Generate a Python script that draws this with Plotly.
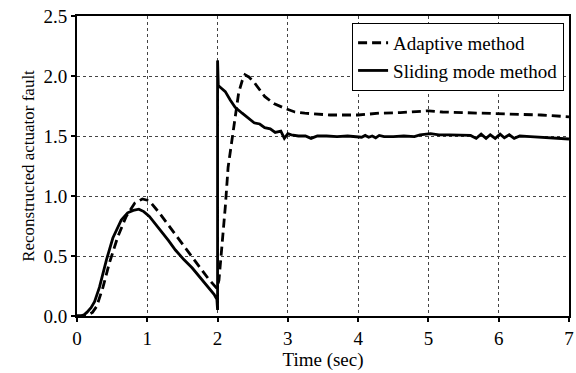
import plotly.graph_objects as go

# Sliding mode method (solid)
t_sliding = [0.0, 0.05, 0.10, 0.14, 0.20, 0.25, 0.32, 0.42, 0.51, 0.63, 0.72, 0.80, 0.88,
             0.95, 1.03, 1.17, 1.30, 1.40, 1.52, 1.64, 1.75, 1.87, 1.95, 1.99, 2.00, 2.00,
             2.01, 2.05, 2.11, 2.18, 2.25, 2.35, 2.44, 2.52, 2.60, 2.67, 2.75, 2.82, 2.90,
             2.95, 3.00, 3.05, 3.15, 3.25, 3.33, 3.42, 3.55, 3.70, 3.85, 4.00, 4.05, 4.10,
             4.15, 4.20, 4.25, 4.30, 4.37, 4.50, 4.65, 4.80, 4.88, 5.03, 5.15, 5.30, 5.45,
             5.60, 5.68, 5.75, 5.82, 5.88, 5.95, 6.02, 6.08, 6.15, 6.22, 6.30, 6.45, 6.60,
             6.80, 7.00]
y_sliding = [0.0, 0.0, 0.01, 0.03, 0.07, 0.12, 0.24, 0.47, 0.65, 0.80, 0.86, 0.88, 0.89,
             0.87, 0.83, 0.73, 0.63, 0.55, 0.47, 0.40, 0.32, 0.24, 0.18, 0.14, 0.05, 2.13,
             1.92, 1.90, 1.87, 1.80, 1.74, 1.69, 1.65, 1.61, 1.60, 1.57, 1.56, 1.53, 1.54,
             1.48, 1.52, 1.51, 1.50, 1.50, 1.48, 1.50, 1.50, 1.495, 1.50, 1.495, 1.49, 1.505,
             1.49, 1.50, 1.485, 1.505, 1.495, 1.495, 1.50, 1.495, 1.51, 1.52, 1.51, 1.51, 1.51,
             1.505, 1.48, 1.515, 1.48, 1.51, 1.48, 1.515, 1.485, 1.51, 1.48, 1.50, 1.495, 1.49,
             1.485, 1.475]

# Adaptive method (dashed)
t_adaptive = [0.0, 0.10, 0.16, 0.22, 0.28, 0.37, 0.46, 0.58, 0.70, 0.82, 0.93, 1.03, 1.17,
              1.40, 1.64, 1.87, 1.99, 2.02, 2.06, 2.11, 2.15, 2.23, 2.30, 2.35, 2.39, 2.45,
              2.53, 2.67, 2.80, 2.96, 3.10, 3.24, 3.60, 4.00, 4.30, 4.60, 5.00, 5.20, 5.70,
              6.20, 6.60, 7.00]
y_adaptive = [0.0, 0.0, 0.01, 0.03, 0.08, 0.24, 0.44, 0.66, 0.83, 0.94, 0.975, 0.96, 0.86,
              0.675, 0.49, 0.31, 0.23, 0.30, 0.55, 0.91, 1.24, 1.58, 1.86, 1.96, 2.01, 1.99,
              1.94, 1.83, 1.77, 1.73, 1.70, 1.69, 1.675, 1.675, 1.69, 1.695, 1.71, 1.70, 1.69,
              1.68, 1.675, 1.66]

x_ticks = [0, 1, 2, 3, 4, 5, 6, 7]
y_ticks = [0.0, 0.5, 1.0, 1.5, 2.0, 2.5]

FONT = "Liberation Serif"

fig = go.Figure()
fig.add_trace(go.Scatter(x=t_adaptive, y=y_adaptive, mode="lines", name="Adaptive method",
                         line=dict(color="black", width=2.8, dash="9px,5px")))
fig.add_trace(go.Scatter(x=t_sliding, y=y_sliding, mode="lines", name="Sliding mode method",
                         line=dict(color="black", width=2.8)))

axis_common = dict(showline=True, linecolor="black", linewidth=2, mirror=True,
                   showgrid=True, gridcolor="#444", gridwidth=1, griddash="dot",
                   ticks="outside", ticklen=4, tickwidth=1.5, tickcolor="black",
                   zeroline=False, ticklabeloverflow="allow",
                   tickfont=dict(family=FONT, size=19, color="black"))

fig.update_xaxes(range=[0, 7], tickvals=x_ticks,
                 title=dict(text="Time (sec)", font=dict(family=FONT, size=19, color="black"), standoff=2),
                 **axis_common)
fig.update_yaxes(range=[0, 2.5], tickvals=y_ticks, tickformat=".1f",
                 title=dict(text="Reconstructed actuator fault", font=dict(family=FONT, size=17, color="black"), standoff=5),
                 **axis_common)

fig.update_layout(
    width=576, height=373,
    margin=dict(l=77, r=2, t=16, b=57),
    plot_bgcolor="white", paper_bgcolor="white",
    font=dict(family=FONT, color="black"),
    legend=dict(x=0.99, y=0.977, xanchor="right", yanchor="top",
                bgcolor="white", bordercolor="black", borderwidth=1,
                font=dict(family=FONT, size=19, color="black"),
                itemwidth=30, tracegroupgap=0),
)

fig.write_html("out.html", config={"displayModeBar": False},
               post_script="document.body.style.margin='0';")
